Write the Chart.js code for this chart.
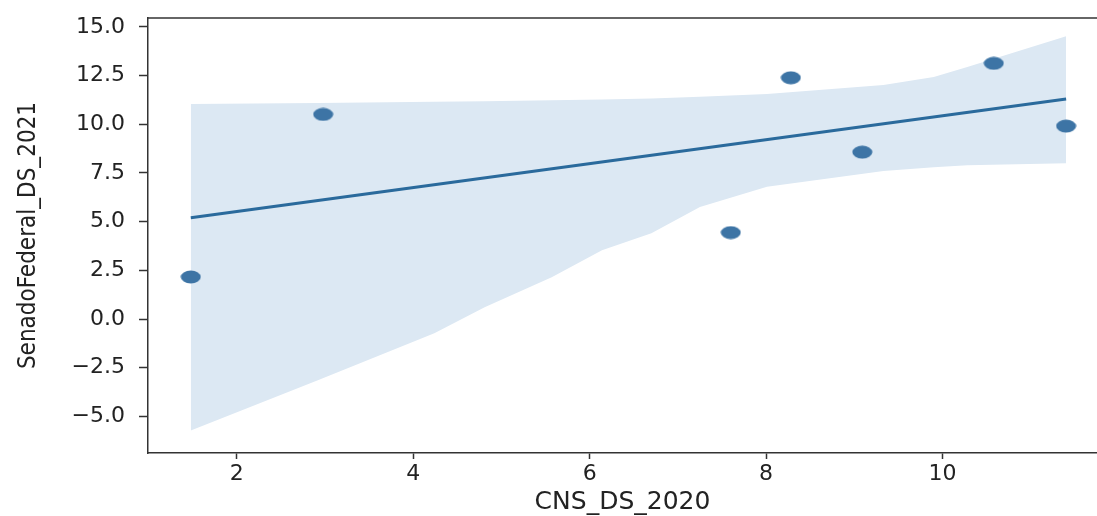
<!DOCTYPE html>
<html lang="pt">
<head>
  <meta charset="UTF-8">
  <title>CNS_DS_2020 x SenadoFederal_DS_2021</title>
  <script src="https://cdn.jsdelivr.net/npm/chart.js"></script>
  <style>
    body { margin: 0; background: #fff; }
    #wrap { width: 1097px; height: 516px; position: relative; }
  </style>
</head>
<body>
  <div id="wrap"><canvas id="chart"></canvas></div>

  <script>
    // pontos observados
    const cnsX = [1.48, 2.98, 7.60, 8.28, 9.09, 10.58, 11.40];
    const senadoY = [2.16, 10.51, 4.44, 12.39, 8.57, 13.13, 9.91];

    // reta de regressão (extremos)
    const fitX = [1.48, 11.40];
    const fitY = [5.20, 11.30];

    // faixa de confiança
    const bandX = [1.48, 2.92, 4.24, 4.81, 5.57, 6.14, 6.70, 7.25, 8.01, 9.33, 9.90, 10.28, 11.40];
    const bandUpper = [11.04, 11.10, 11.16, 11.19, 11.23, 11.27, 11.33, 11.42, 11.56, 12.02, 12.43, 12.94, 14.52];
    const bandLower = [-5.72, -3.15, -0.73, 0.60, 2.15, 3.53, 4.41, 5.76, 6.79, 7.60, 7.80, 7.90, 8.00];

    const xTicks = [2, 4, 6, 8, 10];
    const yTicks = [-5, -2.5, 0, 2.5, 5, 7.5, 10, 12.5, 15];

    const pts = (xs, ys) => xs.map((x, i) => ({ x, y: ys[i] }));

    // marcador elíptico como no original
    function makeDot(w, h, color) {
      const c = document.createElement('canvas');
      c.width = w; c.height = h;
      const g = c.getContext('2d');
      g.fillStyle = color;
      g.beginPath();
      g.ellipse(w / 2, h / 2, w / 2 - 0.5, h / 2 - 0.5, 0, 0, Math.PI * 2);
      g.fill();
      return c;
    }

    const axisColor = '#333';

    const topSpine = {
      id: 'topSpine',
      afterDraw(chart) {
        const { ctx, chartArea } = chart;
        ctx.save();
        ctx.strokeStyle = axisColor;
        ctx.lineWidth = 1.5;
        ctx.beginPath();
        ctx.moveTo(chartArea.left, chartArea.top);
        ctx.lineTo(chartArea.right, chartArea.top);
        ctx.stroke();
        ctx.restore();
      }
    };

    const ctx = document.getElementById('chart').getContext('2d');
    new Chart(ctx, {
      type: 'line',
      data: {
        datasets: [
          {
            data: pts(cnsX, senadoY),
            showLine: false,
            pointStyle: makeDot(21, 14, '#3d74a5'),
            pointRadius: 7,
            order: 0
          },
          {
            data: pts(fitX, fitY),
            borderColor: '#2a6a9c',
            borderWidth: 3,
            pointRadius: 0,
            fill: false,
            order: 1
          },
          {
            data: pts(bandX, bandUpper),
            borderWidth: 0,
            borderColor: 'rgba(0,0,0,0)',
            backgroundColor: 'rgb(220,232,243)',
            pointRadius: 0,
            fill: '+1',
            order: 2
          },
          {
            data: pts(bandX, bandLower),
            borderWidth: 0,
            borderColor: 'rgba(0,0,0,0)',
            pointRadius: 0,
            fill: false,
            order: 3
          }
        ]
      },
      options: {
        responsive: true,
        maintainAspectRatio: false,
        animation: false,
        layout: { autoPadding: false, padding: { top: 18, right: 0, left: 0, bottom: 0 } },
        plugins: { legend: { display: false }, tooltip: { enabled: false } },
        scales: {
          x: {
            type: 'linear',
            min: 0.995,
            max: 11.75,
            afterBuildTicks: s => { s.ticks = xTicks.map(v => ({ value: v })); },
            afterFit: s => { s.height = 63; s.paddingLeft = 0; s.paddingRight = 0; },
            grid: { drawOnChartArea: false, drawTicks: true, tickLength: 6, tickWidth: 1.5, tickColor: axisColor },
            border: { display: true, color: axisColor, width: 1.5 },
            ticks: { color: '#222', padding: 2, font: { family: 'DejaVu Sans', size: 22 } },
            title: {
              display: true,
              text: 'CNS_DS_2020',
              color: '#222',
              padding: { top: 4, bottom: -1 },
              font: { family: 'DejaVu Sans', size: 25 }
            }
          },
          y: {
            min: -6.88,
            max: 15.46,
            afterBuildTicks: s => { s.ticks = yTicks.map(v => ({ value: v })); },
            afterFit: s => { s.width = 148; s.paddingTop = 0; s.paddingBottom = 0; },
            grid: { drawOnChartArea: false, drawTicks: true, tickLength: 9, tickWidth: 1.5, tickColor: axisColor },
            border: { display: true, color: axisColor, width: 1.5 },
            ticks: {
              color: '#222',
              padding: 14,
              font: { family: 'DejaVu Sans', size: 22 },
              callback: v => v.toFixed(1).replace('-', '\u2212')
            },
            title: {
              display: true,
              text: 'SenadoFederal_DS_2021',
              color: '#222',
              padding: { top: 14, bottom: 0 },
              font: { family: 'DejaVu Sans Condensed', size: 24 }
            }
          }
        }
      },
      plugins: [topSpine]
    });
  </script>
</body>
</html>
